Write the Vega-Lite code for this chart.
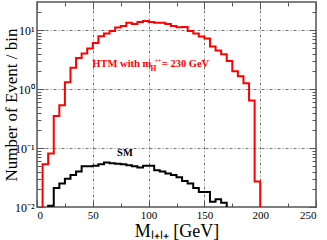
{
  "$schema": "https://vega.github.io/schema/vega-lite/v6.json",
  "width": 279,
  "height": 205,
  "autosize": {"type": "none"},
  "padding": {"left": 37, "top": 2, "right": 11, "bottom": 33},
  "background": "white",
  "config": {
    "view": {"stroke": "#555", "strokeWidth": 1.5},
    "font": "Liberation Serif"
  },
  "data": {
    "values": [
      {"s": "HTM", "x": 0, "v": 0.001}, {"s": "HTM", "x": 5, "v": 0.053}, {"s": "HTM", "x": 10, "v": 0.081},
      {"s": "HTM", "x": 15, "v": 0.35}, {"s": "HTM", "x": 20, "v": 0.53}, {"s": "HTM", "x": 25, "v": 1.31},
      {"s": "HTM", "x": 30, "v": 2.29}, {"s": "HTM", "x": 35, "v": 3.38}, {"s": "HTM", "x": 40, "v": 4.0},
      {"s": "HTM", "x": 45, "v": 4.9}, {"s": "HTM", "x": 50, "v": 6.05}, {"s": "HTM", "x": 55, "v": 7.9},
      {"s": "HTM", "x": 60, "v": 8.8}, {"s": "HTM", "x": 65, "v": 9.7}, {"s": "HTM", "x": 70, "v": 11.1},
      {"s": "HTM", "x": 75, "v": 11.7}, {"s": "HTM", "x": 80, "v": 13.3}, {"s": "HTM", "x": 85, "v": 12.7},
      {"s": "HTM", "x": 90, "v": 13.7}, {"s": "HTM", "x": 95, "v": 14.3}, {"s": "HTM", "x": 100, "v": 13.7},
      {"s": "HTM", "x": 105, "v": 13.3}, {"s": "HTM", "x": 110, "v": 13.4}, {"s": "HTM", "x": 115, "v": 12.7},
      {"s": "HTM", "x": 120, "v": 11.8}, {"s": "HTM", "x": 125, "v": 11.2}, {"s": "HTM", "x": 130, "v": 11.3},
      {"s": "HTM", "x": 135, "v": 9.7}, {"s": "HTM", "x": 140, "v": 8.8}, {"s": "HTM", "x": 145, "v": 7.8},
      {"s": "HTM", "x": 150, "v": 7.2}, {"s": "HTM", "x": 155, "v": 5.3}, {"s": "HTM", "x": 160, "v": 4.5},
      {"s": "HTM", "x": 165, "v": 3.9}, {"s": "HTM", "x": 170, "v": 3.0}, {"s": "HTM", "x": 175, "v": 2.0},
      {"s": "HTM", "x": 180, "v": 1.65}, {"s": "HTM", "x": 185, "v": 1.26}, {"s": "HTM", "x": 190, "v": 0.64},
      {"s": "HTM", "x": 195, "v": 0.027}, {"s": "HTM", "x": 200, "v": 0.001},
      {"s": "SM", "x": 5, "v": 0.001}, {"s": "SM", "x": 10, "v": 0.0105}, {"s": "SM", "x": 15, "v": 0.021},
      {"s": "SM", "x": 20, "v": 0.025}, {"s": "SM", "x": 25, "v": 0.03}, {"s": "SM", "x": 30, "v": 0.035},
      {"s": "SM", "x": 35, "v": 0.04}, {"s": "SM", "x": 40, "v": 0.049}, {"s": "SM", "x": 45, "v": 0.049},
      {"s": "SM", "x": 50, "v": 0.05}, {"s": "SM", "x": 55, "v": 0.053}, {"s": "SM", "x": 60, "v": 0.057},
      {"s": "SM", "x": 65, "v": 0.055}, {"s": "SM", "x": 70, "v": 0.054}, {"s": "SM", "x": 75, "v": 0.053},
      {"s": "SM", "x": 80, "v": 0.051}, {"s": "SM", "x": 85, "v": 0.049}, {"s": "SM", "x": 90, "v": 0.047},
      {"s": "SM", "x": 95, "v": 0.05}, {"s": "SM", "x": 100, "v": 0.05}, {"s": "SM", "x": 105, "v": 0.042},
      {"s": "SM", "x": 110, "v": 0.04}, {"s": "SM", "x": 115, "v": 0.037}, {"s": "SM", "x": 120, "v": 0.035},
      {"s": "SM", "x": 125, "v": 0.032}, {"s": "SM", "x": 130, "v": 0.0275}, {"s": "SM", "x": 135, "v": 0.025},
      {"s": "SM", "x": 140, "v": 0.021}, {"s": "SM", "x": 145, "v": 0.018}, {"s": "SM", "x": 150, "v": 0.018},
      {"s": "SM", "x": 155, "v": 0.0123}, {"s": "SM", "x": 160, "v": 0.0135}, {"s": "SM", "x": 165, "v": 0.0118},
      {"s": "SM", "x": 170, "v": 0.001}
    ]
  },
  "layer": [
    {
      "transform": [{"filter": "datum.s === 'HTM'"}],
      "mark": {"type": "line", "interpolate": "step-after", "clip": true, "color": "#ff0000", "strokeWidth": 2},
      "encoding": {
        "x": {
          "field": "x", "type": "quantitative",
          "scale": {"domain": [0, 250], "nice": false, "zero": false},
          "axis": {
            "orient": "bottom",
            "values": [0, 25, 50, 75, 100, 125, 150, 175, 200, 225, 250],
            "labelExpr": "datum.value % 50 == 0 ? datum.label : ''",
            "labelOverlap": false,
            "labelFont": "Liberation Serif", "labelFontSize": 11, "labelColor": "black",
            "labelPadding": 9,
            "domain": false,
            "tickColor": "#555",
            "tickSize": {"condition": {"test": "datum.value % 50 == 0", "value": -7}, "value": -4},
            "grid": true,
            "gridColor": "#777",
            "gridDash": [3, 2, 1, 2],
            "gridOpacity": {"condition": {"test": "datum.value % 50 == 0", "value": 1}, "value": 0},
            "title": "Mₗ₊ₗ₊ [GeV]",
            "titleFont": "Liberation Serif", "titleFontSize": 18, "titleFontWeight": "normal", "titleColor": "black",
            "titlePadding": -1
          }
        },
        "y": {
          "field": "v", "type": "quantitative",
          "scale": {"type": "log", "domain": [0.01, 30], "nice": false},
          "axis": {
            "orient": "left",
            "values": [0.01, 0.02, 0.03, 0.04, 0.05, 0.06, 0.07, 0.08, 0.09, 0.1, 0.2, 0.3, 0.4, 0.5, 0.6, 0.7, 0.8, 0.9, 1, 2, 3, 4, 5, 6, 7, 8, 9, 10, 20],
            "labelExpr": "datum.value == 0.01 ? '10⁻²' : datum.value == 0.1 ? '10⁻¹' : datum.value == 1 ? '10⁰' : datum.value == 10 ? '10¹' : ''",
            "labelOverlap": false,
            "labelFont": "Liberation Serif", "labelFontSize": 12, "labelColor": "black",
            "labelPadding": 10,
            "domain": false,
            "tickColor": "#555",
            "tickSize": {"condition": {"test": "datum.value == 0.01 || datum.value == 0.1 || datum.value == 1 || datum.value == 10", "value": -7}, "value": -4},
            "grid": true,
            "gridColor": "#777",
            "gridDash": [3, 2, 1, 2],
            "gridOpacity": {"condition": {"test": "datum.value == 0.1 || datum.value == 1 || datum.value == 10", "value": 1}, "value": 0},
            "title": "Number of Event / bin",
            "titleFont": "Liberation Serif", "titleFontSize": 17, "titleFontWeight": "normal", "titleColor": "black",
            "titlePadding": -6
          }
        }
      }
    },
    {
      "transform": [{"filter": "datum.s === 'SM'"}],
      "mark": {"type": "line", "interpolate": "step-after", "clip": true, "color": "#000000", "strokeWidth": 2},
      "encoding": {
        "x": {
          "field": "x", "type": "quantitative",
          "axis": {
            "orient": "top",
            "values": [0, 25, 50, 75, 100, 125, 150, 175, 200, 225, 250],
            "labels": false,
            "domain": false,
            "tickColor": "#555",
            "tickSize": {"condition": {"test": "datum.value % 50 == 0", "value": -7}, "value": -4},
            "grid": false,
            "title": null
          }
        },
        "y": {
          "field": "v", "type": "quantitative",
          "axis": {
            "orient": "right",
            "values": [0.01, 0.02, 0.03, 0.04, 0.05, 0.06, 0.07, 0.08, 0.09, 0.1, 0.2, 0.3, 0.4, 0.5, 0.6, 0.7, 0.8, 0.9, 1, 2, 3, 4, 5, 6, 7, 8, 9, 10, 20],
            "labels": false,
            "domain": false,
            "tickColor": "#555",
            "tickSize": {"condition": {"test": "datum.value == 0.01 || datum.value == 0.1 || datum.value == 1 || datum.value == 10", "value": -7}, "value": -4},
            "grid": false,
            "title": null
          }
        }
      }
    },
    {
      "data": {"values": [{}]},
      "mark": {"type": "text", "text": "HTM with m", "align": "left", "baseline": "alphabetic", "font": "Liberation Serif", "fontWeight": "bold", "fontSize": 10.5, "fill": "#ff0000"},
      "encoding": {
        "x": {"datum": 49.6, "type": "quantitative", "axis": null},
        "y": {"datum": 2.35, "type": "quantitative", "axis": null}
      }
    },
    {
      "data": {"values": [{}]},
      "mark": {"type": "text", "text": "H", "align": "left", "baseline": "alphabetic", "font": "Liberation Serif", "fontWeight": "bold", "fontSize": 7.5, "fill": "#ff0000"},
      "encoding": {
        "x": {"datum": 101.6, "type": "quantitative", "axis": null},
        "y": {"datum": 2.0, "type": "quantitative", "axis": null}
      }
    },
    {
      "data": {"values": [{}]},
      "mark": {"type": "text", "text": "++", "align": "left", "baseline": "alphabetic", "font": "Liberation Serif", "fontWeight": "bold", "fontSize": 5.5, "fill": "#ff0000"},
      "encoding": {
        "x": {"datum": 105.6, "type": "quantitative", "axis": null},
        "y": {"datum": 2.75, "type": "quantitative", "axis": null}
      }
    },
    {
      "data": {"values": [{}]},
      "mark": {"type": "text", "text": "= 230 GeV", "align": "left", "baseline": "alphabetic", "font": "Liberation Serif", "fontWeight": "bold", "fontSize": 10.5, "fill": "#ff0000"},
      "encoding": {
        "x": {"datum": 111.8, "type": "quantitative", "axis": null},
        "y": {"datum": 2.35, "type": "quantitative", "axis": null}
      }
    },
    {
      "data": {"values": [{}]},
      "mark": {"type": "text", "text": "SM", "align": "center", "baseline": "alphabetic", "font": "Liberation Serif", "fontWeight": "bold", "fontSize": 10.5, "fill": "#000000"},
      "encoding": {
        "x": {"datum": 78.8, "type": "quantitative", "axis": null},
        "y": {"datum": 0.0735, "type": "quantitative", "axis": null}
      }
    }
  ],
  "resolve": {"axis": {"x": "independent", "y": "independent"}}
}
